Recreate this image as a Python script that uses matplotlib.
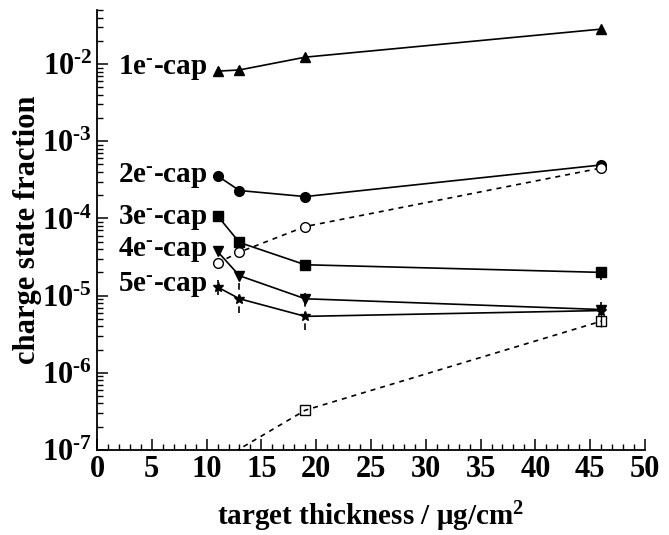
import matplotlib
matplotlib.use("Agg")
import matplotlib.pyplot as plt
from matplotlib.ticker import LogLocator, MultipleLocator, FuncFormatter
import numpy as np

plt.rcParams['font.family'] = ['Liberation Serif', 'DejaVu Serif']
plt.rcParams['font.weight'] = 'bold'
plt.rcParams['mathtext.fontset'] = 'custom'
plt.rcParams['mathtext.rm'] = 'Liberation Serif:bold'
plt.rcParams['mathtext.bf'] = 'Liberation Serif:bold'
plt.rcParams['mathtext.it'] = 'Liberation Serif:bold:italic'
plt.rcParams['mathtext.default'] = 'bf'

# data
x = [11, 13, 19, 46]
cap1 = [8.1e-3, 8.4e-3, 1.23e-2, 2.84e-2]
cap2 = [3.56e-4, 2.30e-4, 1.92e-4, 4.93e-4]
cap3 = [1.08e-4, 4.88e-5, 2.51e-5, 2.0e-5]
cap4 = [3.73e-5, 1.81e-5, 9.1e-6, 6.6e-6]
cap5 = [1.29e-5, 9.1e-6, 5.38e-6, 6.4e-6]
open_circ = [2.64e-5, 3.66e-5, 7.85e-5, 4.5e-4]
x_sq = [11, 19, 46]
open_sq = [7.0e-8, 3.27e-7, 4.65e-6]

# error bars
err_x = [11, 13, 19, 46]
err_lo = [1.03e-5, 6.0e-6, 3.63e-6, 5.6e-6]
err_hi = [1.61e-5, 1.71e-5, 1.09e-5, 8.3e-6]
err3_lo, err3_hi = 1.61e-5, 2.37e-5

labels = [r'1e$^{\text{-}}$-cap', r'2e$^{\text{-}}$-cap', r'3e$^{\text{-}}$-cap',
          r'4e$^{\text{-}}$-cap', r'5e$^{\text{-}}$-cap']
label_y = [9.1e-3, 3.56e-4, 1.02e-4, 3.93e-5, 1.38e-5]

fig = plt.figure(figsize=(6.69, 5.35), dpi=100)
ax = fig.add_axes([0.145, 0.159, 0.819, 0.822])

ax.vlines(err_x[:3], err_lo[:3], err_hi[:3], colors='k', linestyles=(0, (4, 3)), lw=1.2)
ax.vlines(err_x[3], err_lo[3], err_hi[3], colors='k', lw=1.2)
ax.vlines(46, err3_lo, err3_hi, colors='k', lw=1.2)
ax.vlines(46, 3.9e-6, 5.6e-6, colors='k', lw=1.0)

ax.plot(x, cap1, '-^', color='k', ms=7, lw=1.2)
ax.plot(x, cap2, '-o', color='k', ms=7, lw=1.2)
ax.plot(x, open_circ, linestyle=(0, (3, 3)), marker='o', color='k', mfc='white', ms=7, lw=1.2)
ax.plot(x, cap3, '-s', color='k', ms=6.5, lw=1.2)
ax.plot(x, cap4, '-v', color='k', ms=7, lw=1.2)
ax.plot(x, cap5, '-*', color='k', ms=7, lw=1.2)
ax.plot(x_sq, open_sq, linestyle=(0, (3, 3)), marker='s', color='k', mfc='none', ms=7, lw=1.2)

for lab, yy in zip(labels, label_y):
    ax.text(10.1, yy, lab, ha='right', va='center', fontsize=21, fontweight='bold')

ax.set_yscale('log')
ax.set_xlim(0, 50)
ax.set_ylim(1e-7, 5e-2)
ax.xaxis.set_major_locator(MultipleLocator(5))
ax.xaxis.set_minor_locator(MultipleLocator(1))
ax.yaxis.set_major_locator(LogLocator(base=10, numticks=20))
ax.yaxis.set_minor_locator(LogLocator(base=10, subs=range(2, 10), numticks=20))
ax.yaxis.set_major_formatter(FuncFormatter(lambda v, p: r'$10^{\text{-}%d}$' % round(-np.log10(v))))

for s in ['top', 'right']:
    ax.spines[s].set_visible(False)
for s in ['left', 'bottom']:
    ax.spines[s].set_linewidth(1.3)

ax.tick_params(which='both', direction='in', labelsize=22)
ax.tick_params(which='major', length=8, width=1.1)
ax.tick_params(which='minor', length=4, width=1.0)
ax.tick_params(axis='x', pad=4)

ax.set_xlabel(r'target thickness / $\mathrm{\mu}$g/cm$^{2}$', fontsize=21, fontweight='bold', labelpad=11)
ax.set_ylabel('charge state fraction', fontsize=22, fontweight='bold', labelpad=0)

fig.savefig('out.png', dpi=100)
